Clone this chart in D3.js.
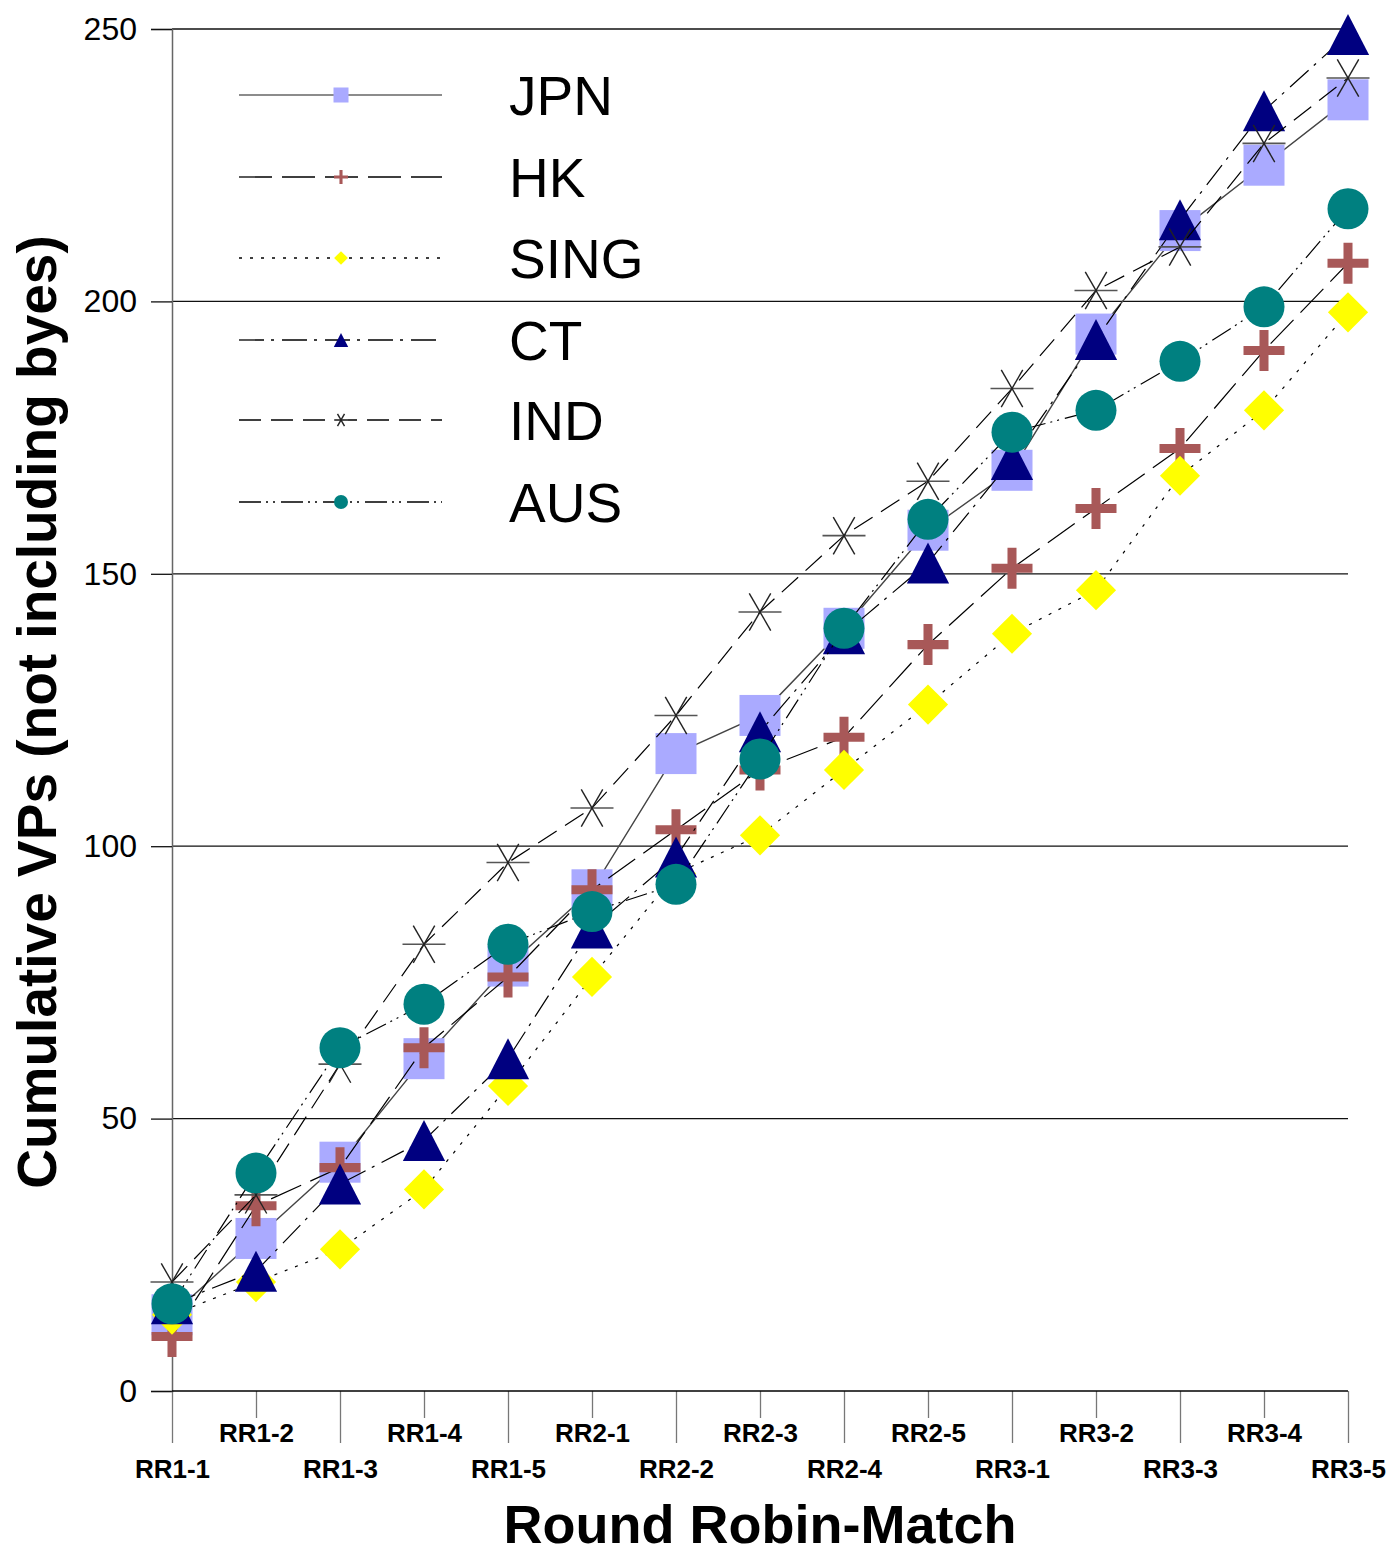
<!DOCTYPE html>
<html><head><meta charset="utf-8">
<script src="https://cdn.jsdelivr.net/npm/d3@7"></script>
<style>body{margin:0;background:#fff}svg{display:block}</style>
</head><body>
<script>
const categories = ["RR1-1","RR1-2","RR1-3","RR1-4","RR1-5","RR2-1","RR2-2","RR2-3","RR2-4","RR2-5","RR3-1","RR3-2","RR3-3","RR3-4","RR3-5"];
const seriesNames = ["JPN","HK","SING","CT","IND","AUS"];
const jpn  = [14, 28, 42, 61, 78, 92, 117, 124, 140, 158, 169, 194, 213, 225, 237];
const hk   = [10, 34, 41, 63, 76, 92, 103, 114, 120, 137, 151, 162, 173, 191, 207];
const sing = [14, 20, 26, 37, 56, 76, 95, 102, 114, 126, 139, 147, 168, 180, 198];
const ct   = [16, 22, 38, 46, 61, 85, 98, 121, 139, 152, 171, 193, 215, 235, 249];
const ind  = [20, 36, 60, 82, 97, 107, 124, 143, 157, 167, 184, 202, 210, 229, 241];
const aus  = [16, 40, 63, 71, 82, 88, 93, 116, 140, 160, 176, 180, 189, 199, 217];
const yTicks = [0, 50, 100, 150, 200, 250];
const yTitle = "Cumulative VPs (not including byes)";
const xTitle = "Round Robin-Match";

const values = [jpn, hk, sing, ct, ind, aus];
const styles = [
  {shape:"square",  fill:"#aaaaff", stroke:"#444", width:1.4, dash:null},
  {shape:"cross",   fill:"#a85858", stroke:"#000", width:1.2, dash:"33,10"},
  {shape:"diamond", fill:"#ffff00", stroke:"#000", width:1.2, dash:"3,8"},
  {shape:"triangle",fill:"#000080", stroke:"#000", width:1.2, dash:"25,7,3,8"},
  {shape:"star",    fill:"none",    stroke:"#000", width:1.2, dash:"22,10"},
  {shape:"circle",  fill:"#008080", stroke:"#000", width:1.2, dash:"22,5,2,5,2,6"}
];

const W = 1390, H = 1555;
const L = 172, R = 1348, T = 29, B = 1391;
const FONT = "'Liberation Sans', Arial, sans-serif";
const svg = d3.select("body").append("svg").attr("width", W).attr("height", H)
  .style("font-family", FONT);
svg.append("rect").attr("width", W).attr("height", H).attr("fill", "#fff");

const x = d3.scalePoint().domain(categories).range([L, R]);
const y = d3.scaleLinear().domain([0, 250]).range([B, T]);

// gridlines
svg.append("g").selectAll("line").data(yTicks.filter(v => v > 0)).join("line")
  .attr("x1", L).attr("x2", R).attr("y1", d => y(d)).attr("y2", d => y(d))
  .attr("stroke", "#111").attr("stroke-width", 1.3);

// y axis
const yAxis = svg.append("g").attr("transform", `translate(${L},0)`)
  .call(d3.axisLeft(y).tickValues(yTicks).tickSize(21).tickPadding(14));
yAxis.select(".domain").attr("stroke", "#666").attr("stroke-width", 1.5);
yAxis.selectAll(".tick line").attr("stroke", "#111").attr("stroke-width", 1.3);
yAxis.selectAll(".tick text").attr("font-size", 32).attr("fill", "#000")
  .attr("font-family", FONT);

// x axis
const xAxis = svg.append("g").attr("transform", `translate(0,${B})`)
  .call(d3.axisBottom(x).tickSize(0).tickFormat(""));
xAxis.select(".domain").remove();
svg.append("line").attr("x1", L).attr("x2", R).attr("y1", B).attr("y2", B)
  .attr("stroke", "#000").attr("stroke-width", 1.5);
xAxis.selectAll(".tick").append("line")
  .attr("y1", 0).attr("y2", (d, i) => i % 2 === 0 ? 52 : 27)
  .attr("stroke", "#777").attr("stroke-width", 1.3);
xAxis.selectAll(".tick").append("text")
  .attr("y", (d, i) => i % 2 === 0 ? 87 : 51)
  .attr("text-anchor", "middle").attr("font-size", 26).attr("font-weight", "bold")
  .attr("fill", "#000").attr("font-family", FONT)
  .text(d => d);

// titles
svg.append("text").attr("x", (L + R) / 2).attr("y", 1543).attr("text-anchor", "middle")
  .attr("font-size", 54).attr("font-weight", "bold").text(xTitle);
svg.append("text").attr("transform", "translate(56,712) rotate(-90)").attr("text-anchor", "middle")
  .attr("font-size", 55).attr("font-weight", "bold").text(yTitle);

function drawMarker(g, shape, fill, s) {
  const h = s / 2;
  if (shape === "square") {
    g.append("rect").attr("x", -h).attr("y", -h).attr("width", s).attr("height", s).attr("fill", fill);
  } else if (shape === "cross") {
    const t = s * 0.22;
    g.append("path").attr("d",
      `M${-t/2},${-h}H${t/2}V${-t/2}H${h}V${t/2}H${t/2}V${h}H${-t/2}V${t/2}H${-h}V${-t/2}H${-t/2}Z`)
      .attr("fill", fill);
  } else if (shape === "diamond") {
    const d = h * 0.98;
    g.append("path").attr("d", `M0,${-d}L${d},0L0,${d}L${-d},0Z`).attr("fill", fill);
  } else if (shape === "triangle") {
    g.append("path").attr("d", `M0,${-h}L${h * 1.03},${h}L${-h * 1.03},${h}Z`).attr("fill", fill);
  } else if (shape === "star") {
    g.append("line").attr("x1", -h).attr("x2", h).attr("y1", 0).attr("y2", 0)
      .attr("stroke", "#555").attr("stroke-width", 1.6);
    const dx = h * 0.5, dy = h * 0.866;
    g.append("line").attr("x1", -dx).attr("y1", -dy).attr("x2", dx).attr("y2", dy)
      .attr("stroke", "#222").attr("stroke-width", 1.4);
    g.append("line").attr("x1", dx).attr("y1", -dy).attr("x2", -dx).attr("y2", dy)
      .attr("stroke", "#222").attr("stroke-width", 1.4);
  } else if (shape === "circle") {
    g.append("circle").attr("r", h).attr("fill", fill);
  }
}

const line = d3.line().x((d, i) => x(categories[i])).y(d => y(d));
const plot = svg.append("g");
values.forEach((vals, si) => {
  const st = styles[si];
  plot.append("path").datum(vals).attr("d", line).attr("fill", "none")
    .attr("stroke", st.stroke).attr("stroke-width", st.width)
    .attr("stroke-dasharray", st.dash);
  vals.forEach((v, i) => {
    const g = plot.append("g").attr("transform", `translate(${x(categories[i])},${y(v)})`);
    drawMarker(g, st.shape, st.fill, st.shape === "star" ? 43 : 41);
  });
});

// legend
const legY = [95, 177, 258, 340, 420, 502];
const leg = svg.append("g");
seriesNames.forEach((name, si) => {
  const st = styles[si];
  const gy = legY[si];
  leg.append("line").attr("x1", 239).attr("x2", 442).attr("y1", gy).attr("y2", gy)
    .attr("stroke", si === 0 ? "#666" : "#000").attr("stroke-width", si === 0 ? 1.6 : 1.3)
    .attr("stroke-dasharray", st.dash);
  const g = leg.append("g").attr("transform", `translate(341,${gy})`);
  drawMarker(g, st.shape, st.fill, st.shape === "square" ? 15 : 14);
  leg.append("text").attr("x", 509).attr("y", gy + 20).attr("font-size", 55).attr("fill", "#000").text(name);
});
</script>
</body></html>
